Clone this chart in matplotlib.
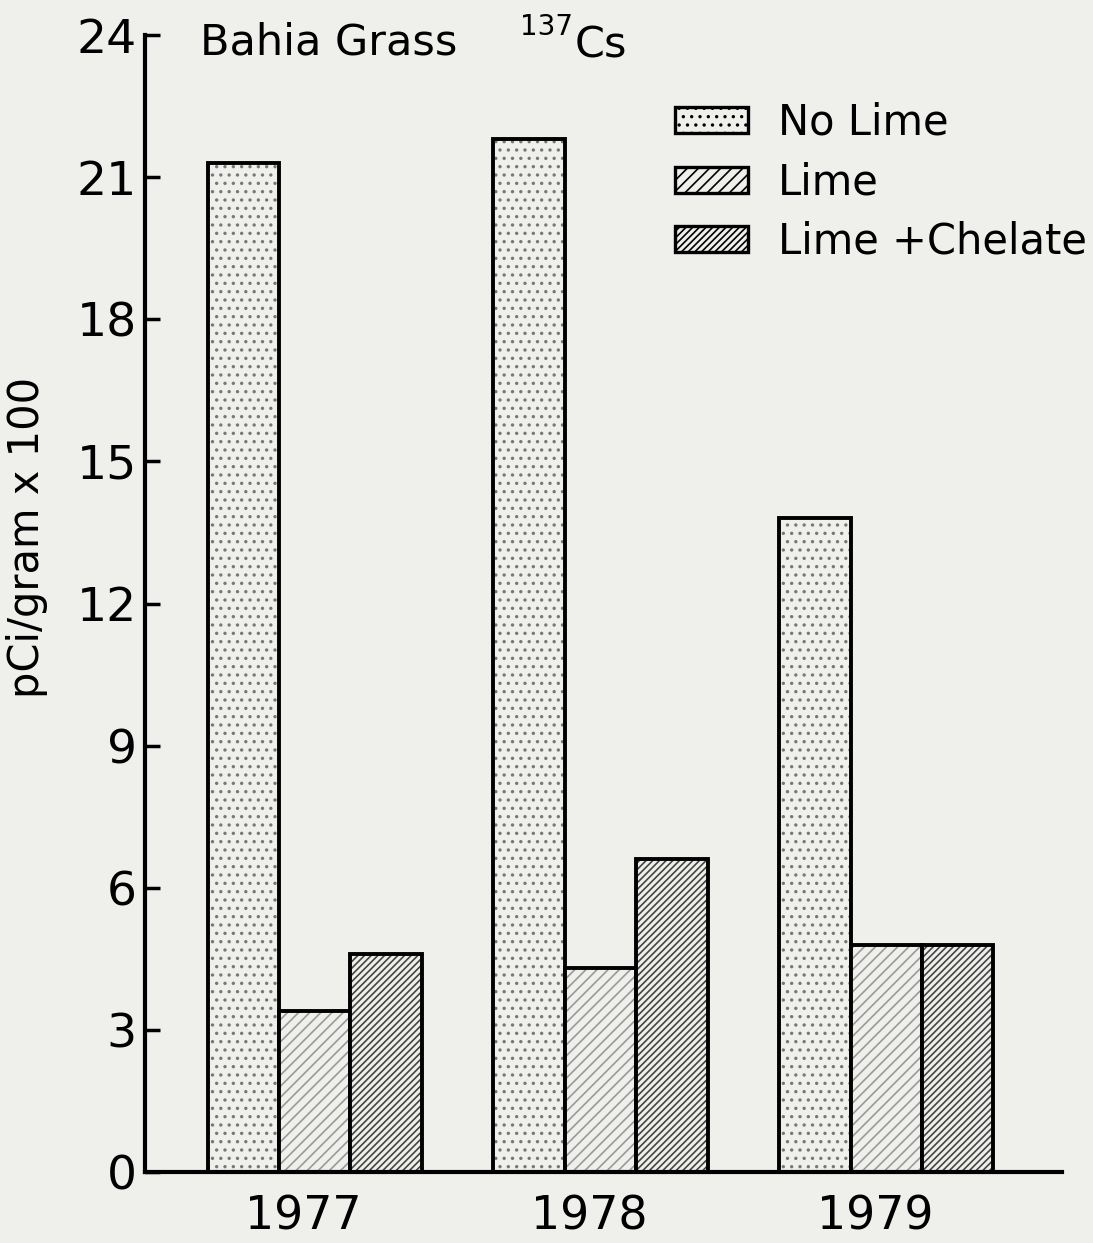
import numpy as np
import matplotlib.pyplot as plt
from matplotlib.patches import Patch

# values (pCi/gram x 100)
years = ['1977', '1978', '1979']
no_lime = [21.3, 21.8, 13.8]
lime = [3.4, 4.3, 4.8]
lime_chelate = [4.6, 6.6, 4.8]
y_ticks = [0, 3, 6, 9, 12, 15, 18, 21, 24]

series = [
    ('No Lime', no_lime, '..'),
    ('Lime', lime, '///'),
    ('Lime +Chelate', lime_chelate, '/////'),
]

plt.rcParams['font.family'] = ['DejaVu Sans']
plt.rcParams['hatch.linewidth'] = 1.2
bg = '#efefec'

fig = plt.figure(figsize=(10.93, 12.43), dpi=100, facecolor=bg)
ax = fig.add_axes([0.1327, 0.0571, 0.8389, 0.9147], facecolor=bg)

x = np.arange(len(years))
w = 0.25
offsets = [-w, 0, w]
hatch_cols = ['#777777', '#999999', '#444444']

for (name, vals, hatch), off, hc in zip(series, offsets, hatch_cols):
    # hatch layer in grey, then outline in black
    ax.bar(x + off, vals, w, color=bg, edgecolor=hc, hatch=hatch, linewidth=0)
    ax.bar(x + off, vals, w, color='none', edgecolor='black', linewidth=2.8)

ax.set_xlim(-0.594, 2.615)
ax.set_ylim(0, 24)
ax.set_yticks(y_ticks)
ax.set_xticks(x - 0.04)
ax.set_xticklabels(years, fontsize=33)
ax.tick_params(axis='x', length=0, pad=16)
ax.tick_params(axis='y', direction='in', length=11, width=2.5, labelsize=34, pad=6)
for s in ['top', 'right']:
    ax.spines[s].set_visible(False)
ax.spines['left'].set_linewidth(3)
ax.spines['bottom'].set_linewidth(3)

ax.set_ylabel('pCi/gram x 100', fontsize=30)
ax.yaxis.set_label_coords(-0.106, 0.558)

fig.text(0.183, 0.956, 'Bahia Grass', fontsize=31, ha='left', va='baseline')
fig.text(0.476, 0.972, '137', fontsize=20, ha='left', va='baseline')
fig.text(0.526, 0.954, 'Cs', fontsize=31, ha='left', va='baseline')

handles = []
for (name, vals, hatch), hc in zip(series, hatch_cols):
    handles.append(Patch(facecolor=bg, edgecolor='black', hatch=hatch, linewidth=2.4, label=name))
leg = fig.legend(handles=handles, loc='upper left', bbox_to_anchor=(0.618, 0.918),
                 frameon=False, fontsize=30, handlelength=1.75, handleheight=0.6,
                 labelspacing=0.42, handletextpad=0.7, borderpad=0, borderaxespad=0)

fig.savefig('out.png', dpi=100, facecolor=bg)
